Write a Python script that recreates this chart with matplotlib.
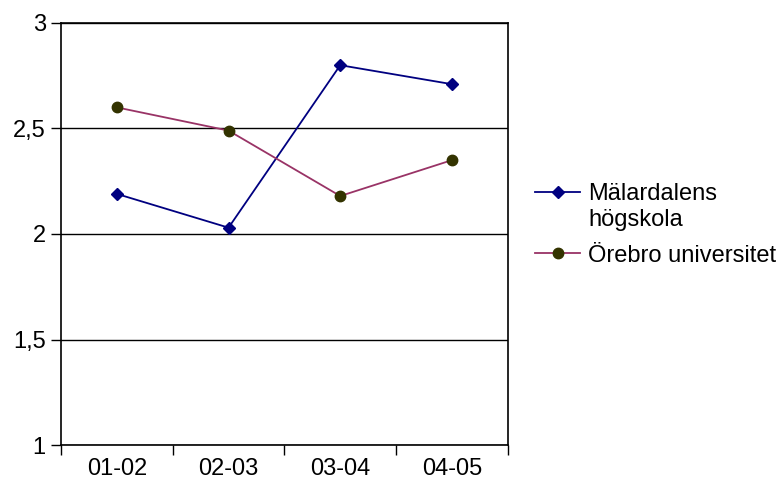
import matplotlib.pyplot as plt

plt.rcParams['font.family'] = ['Liberation Sans', 'DejaVu Sans']

periods = ['01-02', '02-03', '03-04', '04-05']
malardalen = [2.19, 2.03, 2.80, 2.71]
orebro = [2.60, 2.49, 2.18, 2.35]

fig = plt.figure(figsize=(7.8, 4.88), dpi=100)
ax = fig.add_axes([0.0782, 0.0881, 0.5728, 0.8648])

x = range(len(periods))
ax.plot(x, malardalen, color='#000080', marker='D', markersize=6,
        markerfacecolor='#000080', markeredgecolor='#000080', lw=1.3,
        label='Mälardalens')
ax.plot(x, orebro, color='#993366', marker='o', markersize=7.5,
        markerfacecolor='#333300', markeredgecolor='#333300', lw=1.3,
        label='Örebro universitet')

ax.set_xlim(-0.5, 3.5)
ax.set_ylim(1, 3)
ax.set_yticks([1, 1.5, 2, 2.5, 3])
ax.set_yticklabels(['1', '1,5', '2', '2,5', '3'])
ax.set_xticks([-0.5, 0.5, 1.5, 2.5, 3.5])
ax.set_xticklabels([])
ax.set_xticks(list(x), minor=True)
ax.set_xticklabels(periods, minor=True)
ax.tick_params(axis='x', which='minor', length=0, pad=9, labelsize=17)
ax.tick_params(axis='x', which='major', length=7, width=1, direction='out')
ax.tick_params(axis='y', length=7, width=1, direction='out', labelsize=17, pad=4)
ax.yaxis.grid(True, color='black', lw=1)
ax.set_axisbelow(True)
for s in ax.spines.values():
    s.set_color('black')
    s.set_linewidth(1.2)

leg = fig.legend(loc='upper left', bbox_to_anchor=(0.686, 0.625), frameon=False,
                 fontsize=17, handlelength=1.9, handletextpad=0.34,
                 labelspacing=1.68, borderpad=0, borderaxespad=0)
fig.text(0.754, 1 - 220 / 488, 'högskola', fontsize=17, va='center', ha='left')

fig.savefig('out.png', dpi=100)
